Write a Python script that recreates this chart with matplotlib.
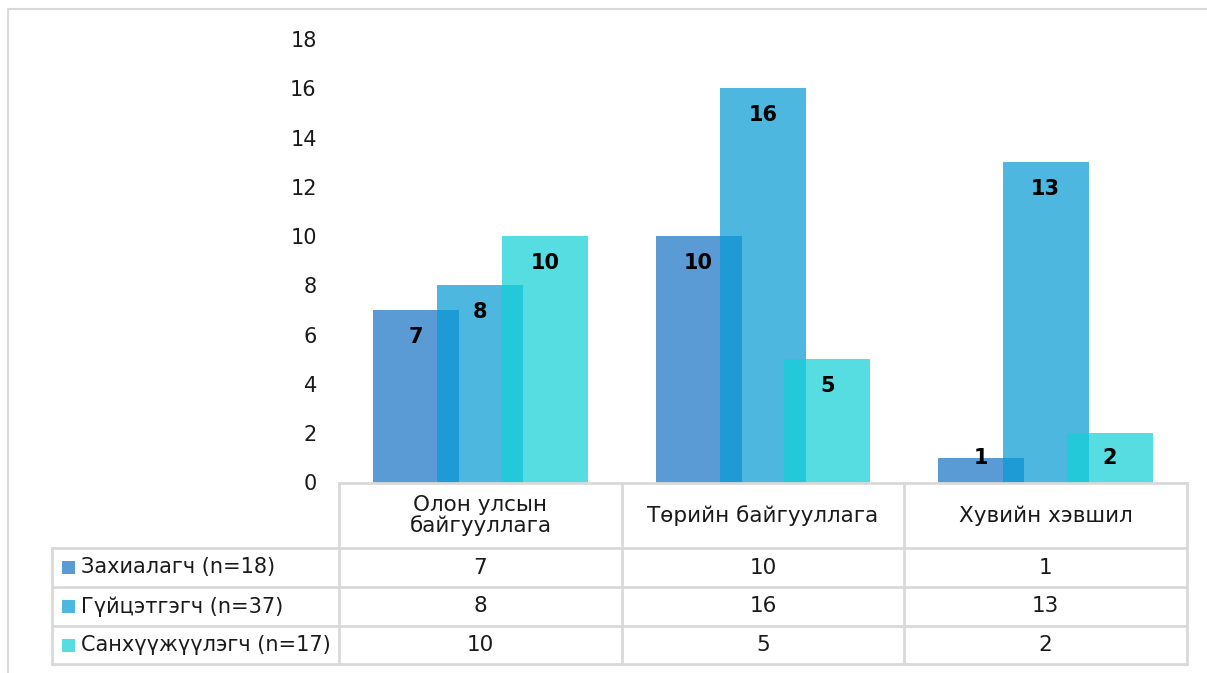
import numpy as np
import matplotlib.pyplot as plt
from matplotlib.transforms import blended_transform_factory
from matplotlib.patches import Rectangle

plt.rcParams['font.family'] = ['DejaVu Sans']

# data
categories = ["Олон улсын\nбайгууллага", "Төрийн байгууллага", "Хувийн хэвшил"]
series_names = ["Захиалагч (n=18)", "Гүйцэтгэгч (n=37)", "Санхүүжүүлэгч (n=17)"]
zakhialagch = [7, 10, 1]
guitsetgegch = [8, 16, 13]
sankhuujuulegch = [10, 5, 2]
series_values = [zakhialagch, guitsetgegch, sankhuujuulegch]
yticks = [0, 2, 4, 6, 8, 10, 12, 14, 16, 18]

# styles
bar_colors = ["#1B74C5", "#089CD5", "#13D1D7"]
alpha = 0.72
line_col = "#D9D9D9"
text_col = "#1A1A1A"

W, H = 1207, 673
fig = plt.figure(figsize=(W / 100, H / 100), dpi=100)


def fx(p):
    return p / W


def fy(p):
    return 1 - p / H


ax = fig.add_axes([fx(339), fy(482.5), fx(1187) - fx(339), fy(39) - fy(482.5)])

x = np.arange(len(categories))
width = 0.304
offset = 0.228
for i, vals in enumerate(series_values):
    xs = x + (i - 1) * offset
    ax.bar(xs, vals, width=width, color=bar_colors[i], alpha=alpha, zorder=2 + i)
    for xi, v in zip(xs, vals):
        ax.text(xi, max(v - 1.1, 1.0), str(v), ha="center", va="center",
                fontsize=15, fontweight="bold", color="black", zorder=10)

ax.set_xlim(-0.5, 2.5)
ax.set_ylim(0, 18)
ax.set_yticks(yticks)
ax.set_yticklabels([str(t) for t in yticks], fontsize=15, color=text_col)
ax.tick_params(axis="y", length=0, pad=16)
ax.set_xticks([])
for s in ax.spines.values():
    s.set_visible(False)

# data table under the chart
bt = blended_transform_factory(ax.transData, fig.transFigure)
row_lines = [482.5, 548, 587, 626, 664]
lw = 2
# horizontal lines
fig.add_artist(plt.Line2D([fx(339), fx(1187)], [fy(482.5)] * 2, color=line_col, lw=lw))
for yl in row_lines[1:]:
    fig.add_artist(plt.Line2D([fx(52), fx(1187)], [fy(yl)] * 2, color=line_col, lw=lw))
# vertical lines
for xb in [-0.5, 0.5, 1.5, 2.5]:
    ax.add_line(plt.Line2D([xb, xb], [fy(482.5), fy(664)], transform=bt, color=line_col,
                           lw=lw, clip_on=False))
fig.add_artist(plt.Line2D([fx(52)] * 2, [fy(548), fy(664)], color=line_col, lw=lw))

# header texts
for xi, c in zip(x, categories):
    ax.text(xi, fy((482.5 + 548) / 2), c, transform=bt, ha="center", va="center",
            fontsize=15.5, color=text_col, linespacing=1.0, clip_on=False)

# rows
for r, (name, vals) in enumerate(zip(series_names, series_values)):
    yc = fy((row_lines[r + 1] + row_lines[r + 2]) / 2)
    sq = 13
    fig.add_artist(Rectangle((fx(62), yc - sq / 2 / H), sq / W, sq / H,
                             facecolor=bar_colors[r], alpha=alpha, edgecolor="none",
                             transform=fig.transFigure))
    fig.text(fx(81), yc, name, ha="left", va="center", fontsize=15, color=text_col)
    for xi, v in zip(x, vals):
        ax.text(xi, yc, str(v), transform=bt, ha="center", va="center",
                fontsize=15.5, color=text_col, clip_on=False)

# chart border
fig.add_artist(plt.Line2D([fx(8), fx(8), fx(1207)], [fy(673), fy(9), fy(9)],
                          color=line_col, lw=1.5))

fig.savefig("out.png", dpi=100)
